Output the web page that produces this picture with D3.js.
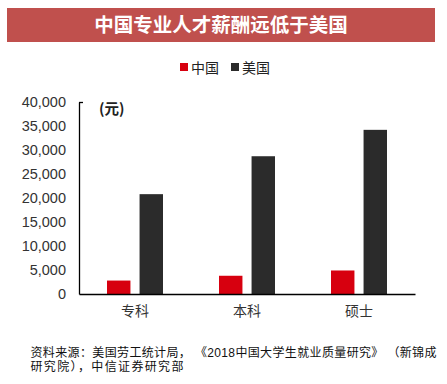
<!DOCTYPE html>
<html><head><meta charset="utf-8">
<script src="https://cdn.jsdelivr.net/npm/d3@7"></script>
<style>body{margin:0;background:#fff}svg{display:block}</style>
</head><body>
<script>
const categories = ["专科", "本科", "硕士"];
const seriesNames = ["中国", "美国"];
const chinaValues = [2800, 3800, 4900];
const usValues = [20800, 28700, 34200];
const yTicks = [0, 5000, 10000, 15000, 20000, 25000, 30000, 35000, 40000];
const colors = ["#d7000f", "#2b2b2b"];

const W = 447, H = 384;
const font = "'Liberation Sans', Arial, 'Noto Sans CJK SC', sans-serif";
const svg = d3.select("body").append("svg").attr("width", W).attr("height", H);

// Title banner
svg.append("rect").attr("x", 7).attr("y", 8).attr("width", 428).attr("height", 34).attr("fill", "#c0504d");
svg.append("text").attr("x", 221).attr("y", 32).attr("text-anchor", "middle")
  .attr("fill", "#fff").attr("font-size", 19.5).attr("font-weight", "bold")
  .attr("font-family", "'Noto Sans CJK SC', sans-serif").text("中国专业人才薪酬远低于美国");

// Legend
const legX = [180, 231];
seriesNames.forEach((n, i) => {
  svg.append("rect").attr("x", legX[i]).attr("y", 63).attr("width", 8).attr("height", 8).attr("fill", colors[i]);
  svg.append("text").attr("x", legX[i] + 11).attr("y", 72.5).attr("font-size", 14)
    .attr("fill", "#222").attr("font-family", "'Noto Sans CJK SC', sans-serif").text(n);
});

const x0 = d3.scaleBand().domain(categories).range([79, 415]).paddingInner(0).paddingOuter(0);
const groupW = 56;
const x1 = d3.scaleBand().domain(seriesNames).range([0, groupW]).paddingInner(0.28).paddingOuter(0);
const y = d3.scaleLinear().domain([0, 40000]).range([294, 102]);

const g = svg.append("g");
const data = categories.map((c, i) => ({c, vals: [chinaValues[i], usValues[i]]}));
data.forEach(d => {
  const gx = x0(d.c) + (x0.bandwidth() - groupW) / 2;
  d.vals.forEach((v, j) => {
    g.append("rect").attr("x", gx + x1(seriesNames[j])).attr("y", y(v))
      .attr("width", x1.bandwidth()).attr("height", y(0) - y(v)).attr("fill", colors[j]);
  });
});

// Y axis
const yAxis = d3.axisLeft(y).tickValues(yTicks).tickSize(0).tickPadding(13)
  .tickFormat(d3.format(","));
const ya = svg.append("g").attr("transform", "translate(79,0)").call(yAxis);
ya.select(".domain").attr("stroke", "#000").attr("stroke-width", 1.3);
ya.selectAll("text").attr("font-size", 14.5).attr("fill", "#333").attr("font-family", font);
svg.append("line").attr("x1", 79).attr("x2", 83).attr("y1", 102.5).attr("y2", 102.5).attr("stroke", "#000").attr("stroke-width", 1.3);

// X axis
const xAxis = d3.axisBottom(x0).tickSize(0).tickPadding(12);
const xa = svg.append("g").attr("transform", "translate(0,294)").call(xAxis);
xa.select(".domain").attr("stroke", "#000").attr("stroke-width", 1.3);
xa.selectAll("text").attr("font-size", 14).attr("fill", "#333").attr("font-family", "'Noto Sans CJK SC', sans-serif");

// Unit
svg.append("text").attr("x", 99).attr("y", 114).attr("font-size", 14.5).attr("font-weight", "bold")
  .attr("fill", "#222").attr("font-family", "'Noto Sans CJK SC', sans-serif").text("(元)");

// Source
const srcLines = ["资料来源：美国劳工统计局， 《2018中国大学生就业质量研究》 （新锦成", "研究院），中信证券研究部"];
svg.append("text").attr("x", 30.5).attr("y", 357).attr("font-size", 12)
  .attr("textLength", 406).attr("lengthAdjust", "spacing")
  .attr("fill", "#111").attr("font-family", font).text(srcLines[0]);
svg.append("text").attr("x", 30.5).attr("y", 371).attr("font-size", 12)
  .attr("textLength", 153).attr("lengthAdjust", "spacing")
  .attr("fill", "#111").attr("font-family", font).text(srcLines[1]);
</script>
</body></html>
